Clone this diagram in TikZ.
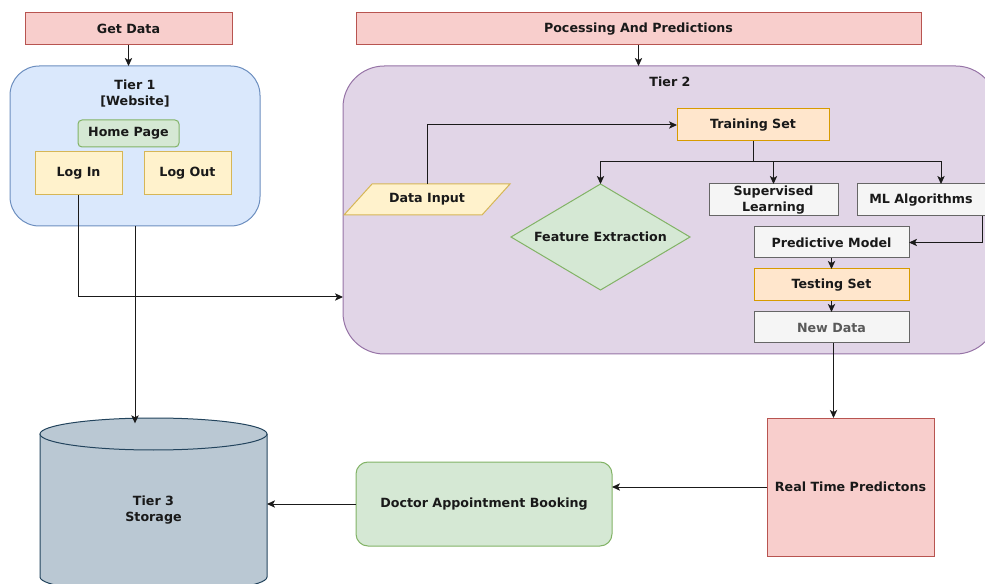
\documentclass[tikz,border=0pt]{standalone}
\usepackage{fontspec}
\setmainfont{DejaVu Sans}
\usetikzlibrary{arrows.meta,shapes.geometric}
\definecolor{redF}{HTML}{F8CECC}\definecolor{redD}{HTML}{B85450}
\definecolor{bluF}{HTML}{DAE8FC}\definecolor{bluD}{HTML}{6C8EBF}
\definecolor{grnF}{HTML}{D5E8D4}\definecolor{grnD}{HTML}{82B366}
\definecolor{yelF}{HTML}{FFF2CC}\definecolor{yelD}{HTML}{D6B656}
\definecolor{purF}{HTML}{E1D5E7}\definecolor{purD}{HTML}{9673A6}
\definecolor{orgF}{HTML}{FFE6CC}\definecolor{orgD}{HTML}{D79B00}
\definecolor{gryF}{HTML}{F5F5F5}\definecolor{gryD}{HTML}{666666}
\definecolor{stoF}{HTML}{BAC8D3}\definecolor{stoD}{HTML}{23445D}
\definecolor{lineC}{HTML}{1A1A1A}
\tikzset{
  sz/.style 2 args={minimum width=#1*0.75pt, minimum height=#2*0.75pt},
  every node/.style={inner sep=0pt, outer sep=0pt, font=\fontsize{9.5}{12}\selectfont\bfseries, align=center, text=black!90},
  redbox/.style={draw=redD, fill=redF, line width=0.75pt},
  blubox/.style={draw=bluD, fill=bluF, line width=0.75pt, rounded corners=22pt},
  grnbox/.style={draw=grnD, fill=grnF, line width=0.75pt, rounded corners=3pt},
  grnround/.style={draw=grnD, fill=grnF, line width=0.75pt, rounded corners=9pt},
  yelbox/.style={draw=yelD, fill=yelF, line width=0.75pt},
  purbox/.style={draw=purD, fill=purF, line width=0.75pt, rounded corners=31pt},
  orgbox/.style={draw=orgD, fill=orgF, line width=0.75pt},
  grybox/.style={draw=gryD, fill=gryF, line width=0.75pt},
  diam/.style={diamond, draw=grnD, fill=grnF, line width=0.75pt, aspect=1.69},
  arr/.style={draw=lineC, line width=0.75pt, -{Stealth[length=6pt,width=5.5pt,inset=1.5pt]}},
  ln/.style={draw=lineC, line width=0.75pt},
}
\begin{document}
\begin{tikzpicture}[x=0.75pt,y=-0.75pt]
\useasboundingbox (0,0) rectangle (985,584);
\clip (0,0) rectangle (985,584);
% headers
\node[redbox, sz={207}{32}] (get) at (128.5,29) {Get Data};
\node[redbox, sz={565}{32}] (proc) at (638.5,29) {Pocessing And Predictions};
% tier 1
\node[blubox, sz={250}{160}] (t1) at (135,146) {};
\node (t1lab) at (135,94) {Tier 1\\{[Website]}};
\node[grnbox, sz={101}{27}] (home) at (128.5,133.5) {Home Page};
\node[yelbox, sz={87}{43}] (login) at (78.5,173.5) {Log In};
\node[yelbox, sz={87}{43}] (logout) at (187.5,173.5) {Log Out};
% tier 2
\node[purbox, sz={654}{288}] (t2) at (670,210) {};
\node (t2lab) at (670,82) {Tier 2};
\node[orgbox, sz={152}{32}] (ts) at (753,125) {Training Set};
\draw[yelD, fill=yelF, line width=0.75pt] (344,215) -- (372,184) -- (510,184) -- (482,215) -- cycle;
\node[sz={110}{31}] (di) at (427,199.5) {Data Input};
\node[diam, sz={179}{106}] (fe) at (600.5,237) {Feature Extraction};
\node[grybox, sz={129}{32}] (sl) at (773.5,200) {Supervised\\Learning};
\node[grybox, sz={128}{32}] (ml) at (921,200) {ML Algorithms};
\node[grybox, sz={155}{31}] (pm) at (831.5,242.5) {Predictive Model};
\node[orgbox, sz={155}{32}] (tst) at (831.5,285) {Testing Set};
\node[grybox, sz={155}{31}, text=black!65] (nd) at (831.5,327.5) {New Data};
% bottom row
\node[redbox, sz={167}{138}] (rtp) at (850.5,487) {Real Time Predictons};
\node[grnround, sz={256}{84}] (dab) at (484,504) {Doctor Appointment Booking};
% storage cylinder
\fill[stoF] (40,434) rectangle (267,577);
\fill[stoF] (153.5,577) ellipse [x radius=113.5, y radius=16];
\draw[stoD, line width=0.75pt] (40,434) -- (40,577) arc[start angle=180, end angle=0, x radius=113.5, y radius=16] -- (267,434);
\draw[stoD, fill=stoF, line width=0.75pt] (153.5,434) ellipse [x radius=113.5, y radius=16];
\node[sz={227}{184}] (store) at (153.5,510) {Tier 3\\Storage};
% connectors
\draw[arr] (get.south) -- (get.south |- t1.north);
\draw[arr] (proc.south) -- (proc.south |- t2.north);
\draw[arr] (login.south) |- (t2.west |- 0,297);
\draw[arr] (t1.south) -- ([yshift=-4]t1.south |- store.north);
\draw[arr] (di.north) |- (ts.west);
\coordinate (split) at (ts.south |- 0,162);
\draw[ln] (ts.south) -- (split);
\draw[arr] (split) -| (fe.north);
\draw[arr] (split) -| (sl.north);
\draw[arr] (split) -| ([xshift=15]ml.north);
\draw[arr] ([xshift=-2]ml.south east) |- (pm.east);
\draw[arr] (pm.south) -- (tst.north);
\draw[arr] (tst.south) -- (nd.north);
\draw[arr] ([xshift=1.5]nd.south) -- ([xshift=1.5]nd.south |- rtp.north);
\draw[arr] (rtp.west) -- (rtp.west -| dab.east);
\draw[arr] (dab.west) -- (dab.west -| store.east);
\end{tikzpicture}
\end{document}
